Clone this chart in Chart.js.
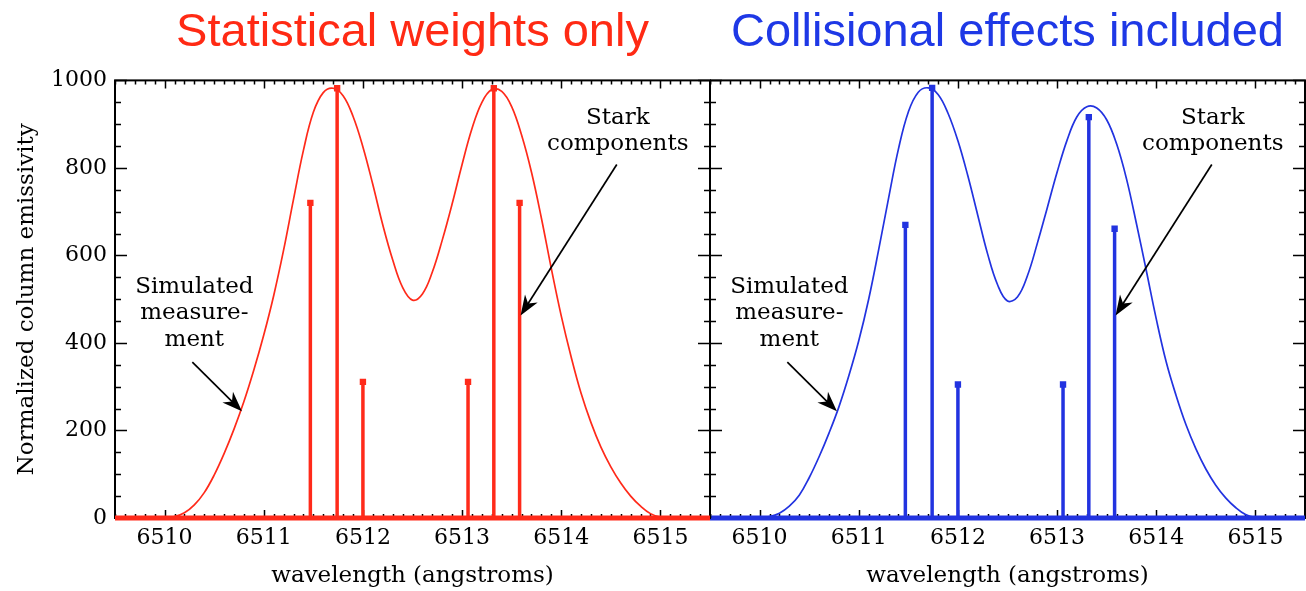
<!DOCTYPE html>
<html>
<head>
<meta charset="utf-8">
<script src="https://cdn.jsdelivr.net/npm/chart.js@4"></script>
<style>
  html, body { margin: 0; padding: 0; background: #fff; }
  #wrap { position: relative; width: 1306px; height: 591px; overflow: hidden; }
  #left { position: absolute; left: 0; top: 0; }
  #right { position: absolute; left: 710px; top: 0; }
</style>
</head>
<body>
<div id="wrap">
  <canvas id="right" width="596" height="591"></canvas>
  <canvas id="left" width="712" height="591"></canvas>
</div>
<script>
// wavelength grid of the simulated measurement (angstroms)
const wavelengths = [
  6509.5, 6509.6, 6509.7, 6509.8, 6509.9, 6510.0, 6510.1, 6510.2, 6510.3, 6510.4,
  6510.5, 6510.6, 6510.7, 6510.8, 6510.9, 6511.0, 6511.1, 6511.2, 6511.3, 6511.4,
  6511.5, 6511.6, 6511.7, 6511.8, 6511.9, 6512.0, 6512.1, 6512.2, 6512.3, 6512.4,
  6512.5, 6512.6, 6512.7, 6512.8, 6512.9, 6513.0, 6513.1, 6513.2, 6513.3, 6513.4,
  6513.5, 6513.6, 6513.7, 6513.8, 6513.9, 6514.0, 6514.1, 6514.2, 6514.3, 6514.4,
  6514.5, 6514.6, 6514.7, 6514.8, 6514.9, 6515.0, 6515.1, 6515.2, 6515.3, 6515.4,
  6515.5
];

// simulated measurement, statistical weights only
const statCurve = [
  0, 0, 0, 0, 0, 0, 3, 12, 30, 58,
  98, 147, 203, 266, 338, 418, 508, 612, 728, 840,
  927, 972, 982, 965, 918, 848, 762, 670, 590, 527,
  498, 512, 562, 635, 718, 808, 890, 950, 979, 975,
  940, 875, 790, 685, 570, 462, 368, 285, 218, 162,
  117, 80, 50, 27, 10, 2, 0, 0, 0, 0,
  0
];

// simulated measurement, collisional effects included
const collCurve = [
  0, 0, 0, 0, 0, 0, 3, 11, 27, 52,
  92, 140, 194, 254, 325, 405, 500, 612, 730, 843,
  928, 973, 983, 968, 925, 862, 782, 692, 603, 533,
  496, 505, 553, 627, 708, 790, 863, 917, 940, 937,
  910, 855, 775, 673, 565, 455, 357, 280, 213, 158,
  112, 75, 46, 24, 8, 1, 0, 0, 0, 0,
  0
];

// Stark components
const starkWl = [6511.47, 6511.74, 6512.0, 6513.06, 6513.32, 6513.58];
const starkStat = [720, 982, 311, 311, 982, 720];
const starkColl = [670, 983, 305, 305, 916, 661];

const xTicks = [6510, 6511, 6512, 6513, 6514, 6515];
const yTicks = [0, 200, 400, 600, 800, 1000];

const RED = '#ff2a1a';
const BLUE = '#2233e0';
const SERIF = 'DejaVu Serif';

function arrow(ctx, x0, y0, x1, y1) {
  const a = Math.atan2(y1 - y0, x1 - x0);
  const c = Math.cos(a), s = Math.sin(a);
  const len = 20, half = 7.5;
  ctx.beginPath();
  ctx.moveTo(x0, y0);
  ctx.lineTo(x1 - c * len * 0.6, y1 - s * len * 0.6);
  ctx.stroke();
  ctx.beginPath();
  ctx.moveTo(x1, y1);
  ctx.lineTo(x1 - c * len + s * half, y1 - s * len - c * half);
  ctx.lineTo(x1 - c * len * 0.7, y1 - s * len * 0.7);
  ctx.lineTo(x1 - c * len - s * half, y1 - s * len + c * half);
  ctx.closePath();
  ctx.fill();
}

// frame with inward ticks on all four sides
const framePlugin = {
  id: 'frame',
  beforeDatasetsDraw(chart) {
    const { ctx, chartArea: a, scales: { x, y } } = chart;
    ctx.save();
    ctx.strokeStyle = '#000';
    ctx.lineWidth = 2;
    ctx.strokeRect(a.left, a.top, a.right - a.left, a.bottom - a.top);
    ctx.lineWidth = 1.5;
    ctx.beginPath();
    const n = Math.round((x.max - x.min) * 10);
    for (let i = 0; i <= n; i++) {
      const v = x.min + i / 10;
      const px = Math.round(x.getPixelForValue(v)) + 0.5;
      const len = Math.abs(v - Math.round(v)) < 0.01 ? 8 : 4;
      ctx.moveTo(px, a.top); ctx.lineTo(px, a.top + len);
      ctx.moveTo(px, a.bottom); ctx.lineTo(px, a.bottom - len);
    }
    for (let v = y.min; v <= y.max; v += 50) {
      const py = Math.round(y.getPixelForValue(v)) + 0.5;
      const len = v % 200 === 0 ? 12 : 6;
      ctx.moveTo(a.left, py); ctx.lineTo(a.left + len, py);
      ctx.moveTo(a.right, py); ctx.lineTo(a.right - len, py);
    }
    ctx.stroke();
    ctx.restore();
  }
};

// text labels and arrows, placed in data units
const noteText = [
  { t: 'Simulated', x: 6510.30, y: 527 },
  { t: 'measure-', x: 6510.30, y: 468 },
  { t: 'ment', x: 6510.30, y: 407 },
  { t: 'Stark', x: 6514.57, y: 913 },
  { t: 'components', x: 6514.57, y: 854 }
];
const noteArrows = [
  { x0: 6510.28, y0: 356, x1: 6510.78, y1: 244 },
  { x0: 6514.56, y0: 808, x1: 6513.59, y1: 463 }
];

const notesPlugin = {
  id: 'notes',
  afterDraw(chart) {
    const { ctx, scales: { x, y } } = chart;
    ctx.save();
    ctx.fillStyle = '#000';
    ctx.strokeStyle = '#000';
    ctx.lineWidth = 1.7;
    ctx.font = '23px "' + SERIF + '"';
    ctx.textAlign = 'center';
    ctx.textBaseline = 'middle';
    for (const n of noteText) {
      ctx.fillText(n.t, x.getPixelForValue(n.x), y.getPixelForValue(n.y));
    }
    for (const r of noteArrows) {
      arrow(ctx, x.getPixelForValue(r.x0), y.getPixelForValue(r.y0),
        x.getPixelForValue(r.x1), y.getPixelForValue(r.y1));
    }
    ctx.restore();
  }
};

function makeChart(id, title, color, titleColor, curve, stark, showY, padRight) {
  const curveData = wavelengths.map((w, i) => ({ x: w, y: curve[i] }));
  const stemData = [];
  starkWl.forEach((w, i) => {
    stemData.push({ x: w, y: 0 }, { x: w, y: stark[i] }, { x: w, y: null });
  });

  return new Chart(document.getElementById(id), {
    type: 'line',
    data: {
      datasets: [
        {
          data: [{ x: wavelengths[0], y: 0 }, { x: wavelengths[wavelengths.length - 1], y: 0 }],
          borderColor: color, borderWidth: 5, pointRadius: 0, clip: false, order: 0
        },
        {
          data: stemData, borderColor: color, borderWidth: 3.5, spanGaps: false,
          pointStyle: 'rect', pointBackgroundColor: color, pointBorderWidth: 0,
          pointRadius: c => (c.dataIndex % 3 === 1 ? 4.5 : 0), order: 1
        },
        {
          data: curveData, borderColor: color, borderWidth: 1.7, pointRadius: 0,
          tension: 0.4, order: 2
        }
      ]
    },
    options: {
      responsive: false,
      animation: false,
      events: [],
      layout: { padding: { left: 0, right: padRight, top: 0, bottom: 0 } },
      plugins: {
        legend: { display: false },
        tooltip: { enabled: false },
        title: {
          display: true, text: title, color: titleColor, fullSize: false,
          font: { family: 'Liberation Sans', size: 47, weight: 'normal' },
          padding: { top: 5, bottom: 19 }
        }
      },
      scales: {
        x: {
          type: 'linear', min: 6509.5, max: 6515.5,
          grid: { display: false, drawTicks: false },
          border: { display: false },
          afterBuildTicks: s => { s.ticks = xTicks.map(v => ({ value: v })); },
          ticks: {
            color: '#000', padding: 7, maxRotation: 0, autoSkip: false,
            font: { family: SERIF, size: 22 },
            callback: v => String(v)
          },
          title: {
            display: true, text: 'wavelength (angstroms)', color: '#000',
            font: { family: SERIF, size: 23 }, padding: { top: 0, bottom: 1 }
          },
          afterFit: s => { s.height = 73; }
        },
        y: {
          min: 0, max: 1000, display: showY,
          grid: { display: false, drawTicks: false },
          border: { display: false },
          afterBuildTicks: s => { s.ticks = yTicks.map(v => ({ value: v })); },
          ticks: {
            color: '#000', padding: 8,
            font: { family: SERIF, size: 22 },
            callback: v => String(v)
          },
          title: {
            display: true, text: 'Normalized column emissivity', color: '#000',
            font: { family: SERIF, size: 23 }, padding: { top: 13, bottom: 0 }
          },
          afterFit: s => { s.width = showY ? 115 : 0; }
        }
      }
    },
    plugins: [framePlugin, notesPlugin]
  });
}

makeChart('left', 'Statistical weights only', RED, '#ff2a14', statCurve, starkStat, true, 2);
makeChart('right', 'Collisional effects included', BLUE, '#1e38e6', collCurve, starkColl, false, 1);
</script>
</body>
</html>
